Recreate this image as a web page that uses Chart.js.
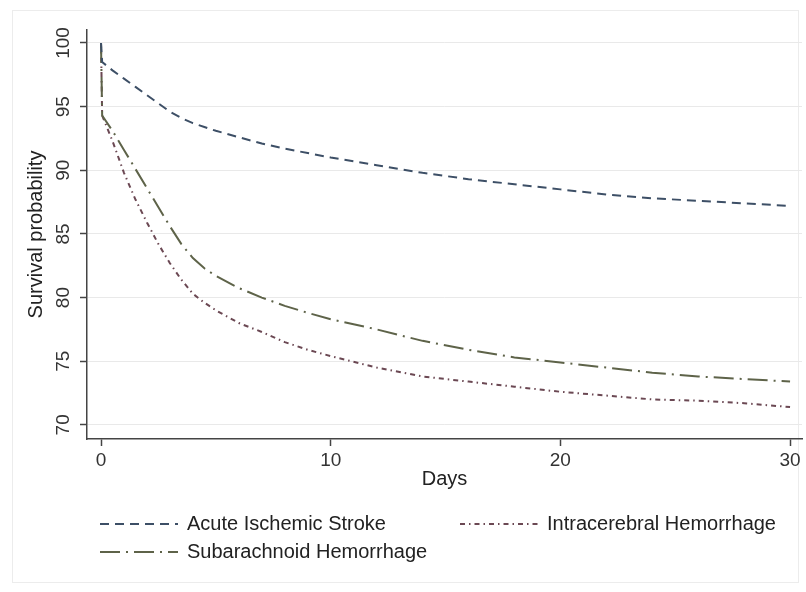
<!DOCTYPE html>
<html>
<head>
<meta charset="utf-8">
<script src="https://cdn.jsdelivr.net/npm/chart.js@4.4.1/dist/chart.umd.min.js"></script>
<style>
  html, body { margin: 0; padding: 0; background: #fff; }
</style>
</head>
<body>
<canvas id="survChart" width="806" height="592"></canvas>
<script>
// days since stroke onset
const days = [0, 0.05, 0.5, 1, 1.5, 2, 2.5, 3, 3.5, 4, 4.5, 5, 6, 7, 8, 9, 10, 12, 14, 16, 18, 20, 22, 24, 26, 28, 30];

// survival probability (%)
const acuteIschemic = [100, 98.5, 97.85, 97.2, 96.55, 95.9, 95.25, 94.6, 94.1, 93.7, 93.4, 93.1, 92.6, 92.1, 91.7, 91.35, 91.0, 90.4, 89.8, 89.3, 88.9, 88.5, 88.1, 87.8, 87.6, 87.4, 87.2];
const subarachnoid  = [100, 94.3, 93.1, 91.6, 90.1, 88.6, 87.1, 85.6, 84.2, 83.1, 82.3, 81.7, 80.75, 80.0, 79.35, 78.8, 78.3, 77.5, 76.6, 75.9, 75.3, 74.9, 74.5, 74.1, 73.8, 73.6, 73.4];
const intracerebral = [100, 94.3, 92.3, 89.8, 87.7, 85.9, 84.2, 82.7, 81.4, 80.3, 79.6, 79.0, 78.0, 77.3, 76.5, 75.9, 75.4, 74.5, 73.8, 73.4, 73.0, 72.6, 72.3, 72.0, 71.9, 71.7, 71.4];

const xTicks = [0, 10, 20, 30];
const yTicks = [70, 75, 80, 85, 90, 95, 100];

const FONT = '"Liberation Sans", Arial, Helvetica, sans-serif';

const toPoints = vals => vals.map((v, i) => ({ x: days[i], y: v }));

function series(label, vals, color, dash) {
  return {
    label: label,
    data: toPoints(vals),
    borderColor: color,
    backgroundColor: color,
    borderWidth: 2,
    borderDash: dash,
    pointRadius: 0,
    showLine: true,
    fill: false,
    tension: 0
  };
}

// frame of the graph region
const frame = {
  id: 'frame',
  beforeDraw(chart) {
    const ctx = chart.ctx;
    ctx.save();
    ctx.fillStyle = '#fff';
    ctx.fillRect(0, 0, chart.width, chart.height);
    ctx.strokeStyle = '#ececec';
    ctx.lineWidth = 1;
    ctx.strokeRect(12.5, 10.5, 786, 572);
    ctx.restore();
  }
};

// vertical y tick labels, like the original
const yTickLabels = {
  id: 'yTickLabels',
  afterDraw(chart) {
    const ctx = chart.ctx, y = chart.scales.y;
    ctx.save();
    ctx.font = '19px ' + FONT;
    ctx.fillStyle = '#333';
    ctx.textAlign = 'center';
    ctx.textBaseline = 'middle';
    y.ticks.forEach(t => {
      ctx.save();
      ctx.translate(64, y.getPixelForValue(t.value));
      ctx.rotate(-Math.PI / 2);
      ctx.fillText(String(t.value), 0, 0);
      ctx.restore();
    });
    ctx.restore();
  }
};

// two-column legend under the axis
const legendSlots = [
  { ds: 0, x: 100, y: 524 },
  { ds: 2, x: 460, y: 524 },
  { ds: 1, x: 100, y: 552 }
];
const gridLegend = {
  id: 'gridLegend',
  afterDraw(chart) {
    const ctx = chart.ctx;
    ctx.save();
    legendSlots.forEach(s => {
      const ds = chart.data.datasets[s.ds];
      ctx.strokeStyle = ds.borderColor;
      ctx.lineWidth = ds.borderWidth;
      ctx.setLineDash(ds.borderDash);
      ctx.beginPath();
      ctx.moveTo(s.x, s.y);
      ctx.lineTo(s.x + 78, s.y);
      ctx.stroke();
      ctx.setLineDash([]);
      ctx.font = '20px ' + FONT;
      ctx.fillStyle = '#222';
      ctx.textAlign = 'left';
      ctx.textBaseline = 'middle';
      ctx.fillText(ds.label, s.x + 87, s.y);
    });
    ctx.restore();
  }
};

new Chart(document.getElementById('survChart'), {
  type: 'scatter',
  data: {
    datasets: [
      series('Acute Ischemic Stroke', acuteIschemic, '#3d4f66', [9, 6]),
      series('Subarachnoid Hemorrhage', subarachnoid, '#5e6349', [20, 6, 2, 6]),
      series('Intracerebral Hemorrhage', intracerebral, '#6b4853', [5, 4, 1.5, 4])
    ]
  },
  options: {
    responsive: false,
    animation: false,
    layout: { padding: { left: 12, right: 4, top: 30, bottom: 101 } },
    plugins: {
      legend: { display: false },
      tooltip: { enabled: false }
    },
    scales: {
      x: {
        type: 'linear',
        min: -0.61,
        max: 30.52,
        afterBuildTicks: s => { s.ticks = xTicks.map(v => ({ value: v })); },
        afterFit: s => { s.height = 52; },
        border: { color: '#444', width: 1.5 },
        grid: { drawOnChartArea: false, tickLength: 7, tickColor: '#444', tickWidth: 1.5 },
        ticks: { color: '#333', padding: 3, font: { family: FONT, size: 19 } },
        title: { display: true, text: 'Days', color: '#222', padding: { top: 0, bottom: 0 }, font: { family: FONT, size: 20 } }
      },
      y: {
        min: 68.89,
        max: 101.02,
        afterBuildTicks: s => { s.ticks = yTicks.map(v => ({ value: v })); },
        afterFit: s => { s.width = 75; },
        border: { color: '#444', width: 1.5 },
        grid: { color: '#e9e9e9', lineWidth: 1, tickLength: 7, tickColor: '#444', tickWidth: 1.5 },
        ticks: { display: false },
        title: { display: true, text: 'Survival probability', color: '#222', padding: { top: 12, bottom: 0 }, font: { family: FONT, size: 20 } }
      }
    }
  },
  plugins: [frame, yTickLabels, gridLegend]
});
</script>
</body>
</html>
